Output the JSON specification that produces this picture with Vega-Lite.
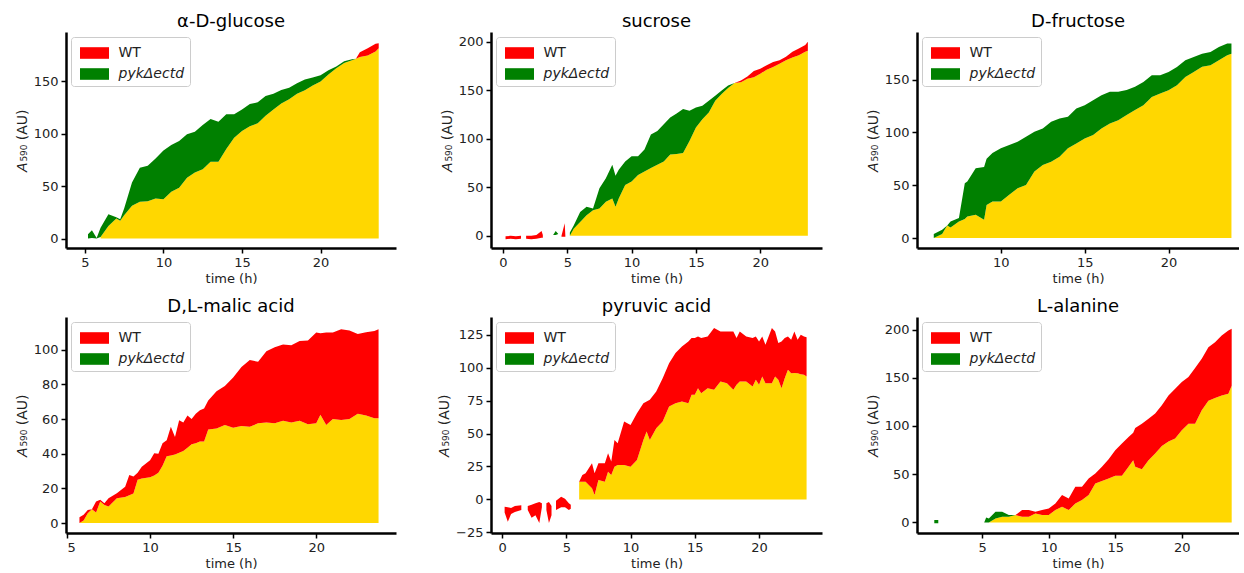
{
  "$schema": "https://vega.github.io/schema/vega-lite/v6.json",
  "padding": {"left": 15, "top": 13, "right": 0, "bottom": 0},
  "background": "white",
  "data": {"values": [
    {"p":"g","t":5.2,"wt":0,"mut":4},
    {"p":"g","t":5.45,"wt":0.5,"mut":8},
    {"p":"g","t":5.75,"wt":0,"mut":0.5},
    {"p":"g","t":6.0,"wt":1.6,"mut":10.2,"lo":1.6},
    {"p":"g","t":6.5,"wt":12.1,"mut":23.2,"lo":12.1},
    {"p":"g","t":7.0,"wt":19.1,"mut":20.4,"lo":19.1},
    {"p":"g","t":7.25,"wt":17,"mut":18.5,"lo":17},
    {"p":"g","t":7.5,"wt":22.3,"mut":28.7,"lo":22.3},
    {"p":"g","t":8.0,"wt":31.2,"mut":53.5,"lo":31.2},
    {"p":"g","t":8.5,"wt":35.0,"mut":67.5,"lo":35.0},
    {"p":"g","t":9.0,"wt":35.7,"mut":69.4,"lo":35.7},
    {"p":"g","t":9.5,"wt":38.2,"mut":76.4,"lo":38.2},
    {"p":"g","t":10.0,"wt":37.6,"mut":84.1,"lo":37.6},
    {"p":"g","t":10.5,"wt":44.6,"mut":89.2,"lo":44.6},
    {"p":"g","t":11.0,"wt":48.4,"mut":93.0,"lo":48.4},
    {"p":"g","t":11.5,"wt":58.0,"mut":99.4,"lo":58.0},
    {"p":"g","t":12.0,"wt":63.1,"mut":101.9,"lo":63.1},
    {"p":"g","t":12.5,"wt":66.2,"mut":108.3,"lo":66.2},
    {"p":"g","t":13.0,"wt":73.2,"mut":114.0,"lo":73.2},
    {"p":"g","t":13.5,"wt":73.2,"mut":111.5,"lo":73.2},
    {"p":"g","t":14.0,"wt":85.3,"mut":118.5,"lo":85.3},
    {"p":"g","t":14.5,"wt":96.2,"mut":118.5,"lo":96.2},
    {"p":"g","t":15.0,"wt":102.5,"mut":123.2,"lo":102.5},
    {"p":"g","t":15.5,"wt":107.0,"mut":128.3,"lo":107.0},
    {"p":"g","t":16.0,"wt":109.9,"mut":129.9,"lo":109.9},
    {"p":"g","t":16.5,"wt":117.2,"mut":136.0,"lo":117.2},
    {"p":"g","t":17.0,"wt":123.2,"mut":138.2,"lo":123.2},
    {"p":"g","t":17.5,"wt":128.7,"mut":141.7,"lo":128.7},
    {"p":"g","t":18.0,"wt":132.8,"mut":143.9,"lo":132.8},
    {"p":"g","t":18.5,"wt":138.2,"mut":148.1,"lo":138.2},
    {"p":"g","t":19.0,"wt":141.4,"mut":151.6,"lo":141.4},
    {"p":"g","t":19.5,"wt":145.9,"mut":153.5,"lo":145.9},
    {"p":"g","t":20.0,"wt":149.7,"mut":155.7,"lo":149.7},
    {"p":"g","t":20.5,"wt":156.5,"mut":160.5,"lo":156.5},
    {"p":"g","t":21.0,"wt":162.5,"mut":164.0,"lo":162.5},
    {"p":"g","t":21.5,"wt":167.5,"mut":169.0,"lo":167.5},
    {"p":"g","t":22.0,"wt":170.0,"mut":171.0,"lo":170.0},
    {"p":"g","t":22.25,"wt":171.5,"mut":171.5,"lo":171.5},
    {"p":"g","t":22.5,"wt":177.7,"mut":173.2,"lo":173.2},
    {"p":"g","t":23.0,"wt":181.5,"mut":174.5,"lo":174.5},
    {"p":"g","t":23.5,"wt":185.7,"mut":178.3,"lo":178.3},
    {"p":"g","t":23.7,"wt":186.3,"mut":181.5,"lo":181.5},

    {"p":"s","t":0.2,"wt":-0.5,"mut":-3.5},
    {"p":"s","t":0.6,"wt":0,"mut":-3},
    {"p":"s","t":1.0,"wt":-0.5,"mut":-3.5},
    {"p":"s","t":1.4,"wt":0,"mut":-3},
    {"p":"s","t":1.6,"wt":null,"mut":null},
    {"p":"s","t":1.8,"wt":0,"mut":-3},
    {"p":"s","t":2.2,"wt":0,"mut":-3.5},
    {"p":"s","t":2.6,"wt":1,"mut":-3},
    {"p":"s","t":3.0,"wt":5,"mut":-2},
    {"p":"s","t":3.1,"wt":1,"mut":-2},
    {"p":"s","t":3.3,"wt":null,"mut":null},
    {"p":"s","t":3.9,"wt":1,"mut":1},
    {"p":"s","t":4.1,"wt":1,"mut":5},
    {"p":"s","t":4.3,"wt":2,"mut":2},
    {"p":"s","t":4.45,"wt":null,"mut":null},
    {"p":"s","t":4.55,"wt":0,"mut":-1},
    {"p":"s","t":4.8,"wt":13,"mut":-1},
    {"p":"s","t":4.85,"wt":0,"mut":-1},
    {"p":"s","t":5.0,"wt":null,"mut":null},
    {"p":"s","t":5.2,"wt":0,"mut":3.5,"lo":0},
    {"p":"s","t":5.5,"wt":7.3,"mut":10.8,"lo":7.3},
    {"p":"s","t":6.0,"wt":14.2,"mut":24.7,"lo":14.2},
    {"p":"s","t":6.5,"wt":21.2,"mut":29.9,"lo":21.2},
    {"p":"s","t":7.0,"wt":26.4,"mut":28.1,"lo":26.4},
    {"p":"s","t":7.5,"wt":28.1,"mut":49.0,"lo":28.1},
    {"p":"s","t":8.0,"wt":35.1,"mut":59.4,"lo":35.1},
    {"p":"s","t":8.5,"wt":38.5,"mut":73.3,"lo":38.5},
    {"p":"s","t":8.75,"wt":30,"mut":62,"lo":30},
    {"p":"s","t":9.0,"wt":38.5,"mut":68.1,"lo":38.5},
    {"p":"s","t":9.5,"wt":52.4,"mut":76.7,"lo":52.4},
    {"p":"s","t":10.0,"wt":55.9,"mut":81.9,"lo":55.9},
    {"p":"s","t":10.5,"wt":62.8,"mut":81.9,"lo":62.8},
    {"p":"s","t":11.0,"wt":66.3,"mut":88.9,"lo":66.3},
    {"p":"s","t":11.5,"wt":69.8,"mut":104.5,"lo":69.8},
    {"p":"s","t":12.0,"wt":73.3,"mut":108.0,"lo":73.3},
    {"p":"s","t":12.5,"wt":76.7,"mut":114.9,"lo":76.7},
    {"p":"s","t":13.0,"wt":83.7,"mut":121.9,"lo":83.7},
    {"p":"s","t":13.5,"wt":84.4,"mut":126.0,"lo":84.4},
    {"p":"s","t":14.0,"wt":85.4,"mut":130.6,"lo":85.4},
    {"p":"s","t":14.5,"wt":97.6,"mut":128.8,"lo":97.6},
    {"p":"s","t":15.0,"wt":111.5,"mut":132.3,"lo":111.5},
    {"p":"s","t":15.5,"wt":120.1,"mut":134.0,"lo":120.1},
    {"p":"s","t":16.0,"wt":127.1,"mut":139.2,"lo":127.1},
    {"p":"s","t":16.5,"wt":139.2,"mut":144.4,"lo":139.2},
    {"p":"s","t":17.0,"wt":146.2,"mut":149.7,"lo":146.2},
    {"p":"s","t":17.5,"wt":152.4,"mut":154.9,"lo":152.4},
    {"p":"s","t":18.0,"wt":157.5,"mut":157.5,"lo":157.5},
    {"p":"s","t":18.5,"wt":160.1,"mut":158.3,"lo":158.3},
    {"p":"s","t":19.0,"wt":164.2,"mut":161.8,"lo":161.8},
    {"p":"s","t":19.5,"wt":169.8,"mut":163.5,"lo":163.5},
    {"p":"s","t":20.0,"wt":172.2,"mut":167.0,"lo":167.0},
    {"p":"s","t":20.5,"wt":175.7,"mut":171.2,"lo":171.2},
    {"p":"s","t":21.0,"wt":179.2,"mut":174.0,"lo":174.0},
    {"p":"s","t":21.5,"wt":181.0,"mut":177.4,"lo":177.4},
    {"p":"s","t":22.0,"wt":184.4,"mut":180.9,"lo":180.9},
    {"p":"s","t":22.5,"wt":189.6,"mut":183.7,"lo":183.7},
    {"p":"s","t":23.0,"wt":193.0,"mut":186.1,"lo":186.1},
    {"p":"s","t":23.5,"wt":196.5,"mut":189.6,"lo":189.6},
    {"p":"s","t":23.7,"wt":200.0,"mut":190.6,"lo":190.6},

    {"p":"f","t":6.0,"wt":0,"mut":3.8,"lo":0},
    {"p":"f","t":6.5,"wt":3.8,"mut":7.9,"lo":3.8},
    {"p":"f","t":6.8,"wt":12,"mut":12,"lo":12},
    {"p":"f","t":7.0,"wt":10.1,"mut":15.7,"lo":10.1},
    {"p":"f","t":7.5,"wt":15.7,"mut":18.9,"lo":15.7},
    {"p":"f","t":7.85,"wt":18,"mut":51.9,"lo":18},
    {"p":"f","t":8.0,"wt":20.4,"mut":53.5,"lo":20.4},
    {"p":"f","t":8.5,"wt":22.0,"mut":66.0,"lo":22.0},
    {"p":"f","t":9.0,"wt":17.3,"mut":67.3,"lo":17.3},
    {"p":"f","t":9.15,"wt":31.4,"mut":75,"lo":31.4},
    {"p":"f","t":9.5,"wt":34.6,"mut":80.5,"lo":34.6},
    {"p":"f","t":10.0,"wt":34.6,"mut":84.9,"lo":34.6},
    {"p":"f","t":10.5,"wt":40.9,"mut":88.1,"lo":40.9},
    {"p":"f","t":11.0,"wt":47.2,"mut":91.2,"lo":47.2},
    {"p":"f","t":11.5,"wt":50.3,"mut":95.9,"lo":50.3},
    {"p":"f","t":12.0,"wt":62.9,"mut":100.6,"lo":62.9},
    {"p":"f","t":12.5,"wt":69.2,"mut":103.8,"lo":69.2},
    {"p":"f","t":13.0,"wt":72.3,"mut":110.1,"lo":72.3},
    {"p":"f","t":13.5,"wt":77.0,"mut":113.2,"lo":77.0},
    {"p":"f","t":14.0,"wt":84.9,"mut":114.8,"lo":84.9},
    {"p":"f","t":14.5,"wt":89.6,"mut":122.6,"lo":89.6},
    {"p":"f","t":15.0,"wt":94.3,"mut":125.8,"lo":94.3},
    {"p":"f","t":15.5,"wt":97.5,"mut":130.5,"lo":97.5},
    {"p":"f","t":16.0,"wt":103.8,"mut":135.2,"lo":103.8},
    {"p":"f","t":16.5,"wt":108.5,"mut":138.4,"lo":108.5},
    {"p":"f","t":17.0,"wt":111.6,"mut":138.4,"lo":111.6},
    {"p":"f","t":17.5,"wt":116.4,"mut":140.0,"lo":116.4},
    {"p":"f","t":18.0,"wt":121.1,"mut":143.1,"lo":121.1},
    {"p":"f","t":18.5,"wt":125.8,"mut":147.8,"lo":125.8},
    {"p":"f","t":19.0,"wt":133.6,"mut":154.1,"lo":133.6},
    {"p":"f","t":19.5,"wt":136.8,"mut":154.1,"lo":136.8},
    {"p":"f","t":20.0,"wt":139.9,"mut":157.2,"lo":139.9},
    {"p":"f","t":20.5,"wt":144.7,"mut":161.9,"lo":144.7},
    {"p":"f","t":21.0,"wt":152.5,"mut":168.2,"lo":152.5},
    {"p":"f","t":21.5,"wt":157.2,"mut":171.4,"lo":157.2},
    {"p":"f","t":22.0,"wt":162.0,"mut":174.5,"lo":162.0},
    {"p":"f","t":22.5,"wt":163.5,"mut":176.1,"lo":163.5},
    {"p":"f","t":23.0,"wt":168.2,"mut":180.8,"lo":168.2},
    {"p":"f","t":23.5,"wt":173.0,"mut":184.0,"lo":173.0},
    {"p":"f","t":23.75,"wt":174.5,"mut":184.0,"lo":174.5},

    {"p":"m","t":5.75,"wt":3.4,"mut":0,"lo":0},
    {"p":"m","t":6.0,"wt":4.8,"mut":1.5,"lo":1.5},
    {"p":"m","t":6.25,"wt":7.6,"mut":5.7,"lo":5.7},
    {"p":"m","t":6.5,"wt":8,"mut":8,"lo":8},
    {"p":"m","t":6.75,"wt":12.4,"mut":6.1,"lo":6.1},
    {"p":"m","t":7.0,"wt":13.4,"mut":12.4,"lo":12.4},
    {"p":"m","t":7.25,"wt":11.5,"mut":10.5,"lo":10.5},
    {"p":"m","t":7.5,"wt":14.3,"mut":9.6,"lo":9.6},
    {"p":"m","t":8.0,"wt":17.2,"mut":14.3,"lo":14.3},
    {"p":"m","t":8.5,"wt":21.0,"mut":15,"lo":15},
    {"p":"m","t":8.75,"wt":27.7,"mut":16,"lo":16},
    {"p":"m","t":9.0,"wt":26.8,"mut":17,"lo":17},
    {"p":"m","t":9.25,"wt":29,"mut":25,"lo":25},
    {"p":"m","t":9.5,"wt":32.5,"mut":25.7,"lo":25.7},
    {"p":"m","t":10.0,"wt":36.3,"mut":26.5,"lo":26.5},
    {"p":"m","t":10.25,"wt":40.2,"mut":27.5,"lo":27.5},
    {"p":"m","t":10.5,"wt":40,"mut":29,"lo":29},
    {"p":"m","t":10.75,"wt":46,"mut":33,"lo":33},
    {"p":"m","t":11.0,"wt":47.8,"mut":38.5,"lo":38.5},
    {"p":"m","t":11.25,"wt":55.5,"mut":39,"lo":39},
    {"p":"m","t":11.5,"wt":49.7,"mut":39.5,"lo":39.5},
    {"p":"m","t":11.75,"wt":59.3,"mut":40.5,"lo":40.5},
    {"p":"m","t":12.0,"wt":58,"mut":41.5,"lo":41.5},
    {"p":"m","t":12.25,"wt":62,"mut":43.5,"lo":43.5},
    {"p":"m","t":12.5,"wt":60,"mut":45.5,"lo":45.5},
    {"p":"m","t":12.75,"wt":63,"mut":46,"lo":46},
    {"p":"m","t":13.0,"wt":65,"mut":47,"lo":47},
    {"p":"m","t":13.25,"wt":66,"mut":47,"lo":47},
    {"p":"m","t":13.5,"wt":70.7,"mut":54,"lo":54},
    {"p":"m","t":14.0,"wt":76,"mut":54.5,"lo":54.5},
    {"p":"m","t":14.5,"wt":79,"mut":56.5,"lo":56.5},
    {"p":"m","t":15.0,"wt":84,"mut":55,"lo":55},
    {"p":"m","t":15.5,"wt":90,"mut":56,"lo":56},
    {"p":"m","t":16.0,"wt":94,"mut":55.5,"lo":55.5},
    {"p":"m","t":16.5,"wt":93,"mut":57.5,"lo":57.5},
    {"p":"m","t":17.0,"wt":99,"mut":58,"lo":58},
    {"p":"m","t":17.5,"wt":101.3,"mut":57.5,"lo":57.5},
    {"p":"m","t":18.0,"wt":103,"mut":59,"lo":59},
    {"p":"m","t":18.5,"wt":102.5,"mut":58,"lo":58},
    {"p":"m","t":19.0,"wt":105,"mut":59,"lo":59},
    {"p":"m","t":19.5,"wt":105.2,"mut":57,"lo":57},
    {"p":"m","t":20.0,"wt":109.9,"mut":57.5,"lo":57.5},
    {"p":"m","t":20.25,"wt":109.5,"mut":62.5,"lo":62.5},
    {"p":"m","t":20.6,"wt":109.9,"mut":56.5,"lo":56.5},
    {"p":"m","t":21.0,"wt":109.9,"mut":60,"lo":60},
    {"p":"m","t":21.5,"wt":111.8,"mut":59.5,"lo":59.5},
    {"p":"m","t":22.0,"wt":111,"mut":60,"lo":60},
    {"p":"m","t":22.5,"wt":109,"mut":63,"lo":63},
    {"p":"m","t":23.0,"wt":110,"mut":62,"lo":62},
    {"p":"m","t":23.5,"wt":110.8,"mut":60.5,"lo":60.5},
    {"p":"m","t":23.75,"wt":111.8,"mut":60.5,"lo":60.5},

    {"p":"y","t":0.2,"wt":-5.6,"mut":-10},
    {"p":"y","t":0.45,"wt":-6,"mut":-17},
    {"p":"y","t":0.7,"wt":-6.5,"mut":-11},
    {"p":"y","t":1.0,"wt":-5,"mut":-9.5},
    {"p":"y","t":1.5,"wt":-4.5,"mut":-8},
    {"p":"y","t":1.7,"wt":null,"mut":null},
    {"p":"y","t":2.0,"wt":-5,"mut":-8},
    {"p":"y","t":2.3,"wt":-4,"mut":-14},
    {"p":"y","t":2.6,"wt":-3,"mut":-12},
    {"p":"y","t":2.9,"wt":-2,"mut":-18},
    {"p":"y","t":3.1,"wt":-3,"mut":-6},
    {"p":"y","t":3.3,"wt":null,"mut":null},
    {"p":"y","t":3.45,"wt":-3,"mut":-8},
    {"p":"y","t":3.65,"wt":-2,"mut":-18},
    {"p":"y","t":3.85,"wt":-5,"mut":-12},
    {"p":"y","t":4.0,"wt":null,"mut":null},
    {"p":"y","t":4.2,"wt":-1,"mut":-8},
    {"p":"y","t":4.6,"wt":2,"mut":-6},
    {"p":"y","t":4.9,"wt":0.5,"mut":-6},
    {"p":"y","t":5.2,"wt":-3,"mut":-8},
    {"p":"y","t":5.35,"wt":-4,"mut":-7},
    {"p":"y","t":5.5,"wt":null,"mut":null},
    {"p":"y","t":6.0,"wt":13.4,"mut":13.4,"lo":13.4},
    {"p":"y","t":6.25,"wt":18.5,"mut":13.4,"lo":13.4},
    {"p":"y","t":6.5,"wt":19.8,"mut":13.4,"lo":13.4},
    {"p":"y","t":7.0,"wt":27.4,"mut":8.4,"lo":8.4},
    {"p":"y","t":7.2,"wt":19.8,"mut":3.3,"lo":3.3},
    {"p":"y","t":7.5,"wt":27.4,"mut":14.7,"lo":14.7},
    {"p":"y","t":8.0,"wt":27.4,"mut":13.4,"lo":13.4},
    {"p":"y","t":8.25,"wt":35,"mut":21,"lo":21},
    {"p":"y","t":8.5,"wt":28.7,"mut":18.5,"lo":18.5},
    {"p":"y","t":8.75,"wt":45.1,"mut":24.8,"lo":24.8},
    {"p":"y","t":9.0,"wt":42.6,"mut":26.1,"lo":26.1},
    {"p":"y","t":9.5,"wt":59.1,"mut":26.1,"lo":26.1},
    {"p":"y","t":10.0,"wt":56.5,"mut":24.8,"lo":24.8},
    {"p":"y","t":10.5,"wt":65.4,"mut":29.9,"lo":29.9},
    {"p":"y","t":11.0,"wt":73,"mut":45.1,"lo":45.1},
    {"p":"y","t":11.25,"wt":74.3,"mut":51.5,"lo":51.5},
    {"p":"y","t":11.5,"wt":75.6,"mut":45.1,"lo":45.1},
    {"p":"y","t":12.0,"wt":81.9,"mut":54,"lo":54},
    {"p":"y","t":12.5,"wt":92,"mut":59.1,"lo":59.1},
    {"p":"y","t":13.0,"wt":103.4,"mut":70.5,"lo":70.5},
    {"p":"y","t":13.5,"wt":111.1,"mut":73,"lo":73},
    {"p":"y","t":14.0,"wt":116.1,"mut":74.3,"lo":74.3},
    {"p":"y","t":14.5,"wt":119.9,"mut":73,"lo":73},
    {"p":"y","t":14.75,"wt":122.5,"mut":79.4,"lo":79.4},
    {"p":"y","t":15.0,"wt":122.5,"mut":79.4,"lo":79.4},
    {"p":"y","t":15.25,"wt":123.7,"mut":84.4,"lo":84.4},
    {"p":"y","t":15.5,"wt":122.5,"mut":80.6,"lo":80.6},
    {"p":"y","t":16.0,"wt":123.7,"mut":84.4,"lo":84.4},
    {"p":"y","t":16.5,"wt":130.1,"mut":83.2,"lo":83.2},
    {"p":"y","t":17.0,"wt":127.5,"mut":89.5,"lo":89.5},
    {"p":"y","t":17.5,"wt":127.5,"mut":88.2,"lo":88.2},
    {"p":"y","t":18.0,"wt":127.5,"mut":83.2,"lo":83.2},
    {"p":"y","t":18.25,"wt":122.5,"mut":87,"lo":87},
    {"p":"y","t":18.5,"wt":127.5,"mut":89.5,"lo":89.5},
    {"p":"y","t":19.0,"wt":123.7,"mut":89.5,"lo":89.5},
    {"p":"y","t":19.5,"wt":122.5,"mut":85.7,"lo":85.7},
    {"p":"y","t":19.75,"wt":123.7,"mut":90.8,"lo":90.8},
    {"p":"y","t":20.0,"wt":119.9,"mut":87,"lo":87},
    {"p":"y","t":20.25,"wt":123.7,"mut":93.3,"lo":93.3},
    {"p":"y","t":20.5,"wt":117.4,"mut":88.2,"lo":88.2},
    {"p":"y","t":21.0,"wt":130.1,"mut":88.2,"lo":88.2},
    {"p":"y","t":21.25,"wt":127.5,"mut":93.3,"lo":93.3},
    {"p":"y","t":21.5,"wt":118.7,"mut":90.8,"lo":90.8},
    {"p":"y","t":21.75,"wt":119.9,"mut":84.4,"lo":84.4},
    {"p":"y","t":22.0,"wt":122.5,"mut":92,"lo":92},
    {"p":"y","t":22.25,"wt":123.7,"mut":98.4,"lo":98.4},
    {"p":"y","t":22.5,"wt":121.2,"mut":95.8,"lo":95.8},
    {"p":"y","t":22.75,"wt":127.5,"mut":96,"lo":96},
    {"p":"y","t":23.0,"wt":121.2,"mut":95.8,"lo":95.8},
    {"p":"y","t":23.25,"wt":125,"mut":95,"lo":95},
    {"p":"y","t":23.5,"wt":123.7,"mut":94.6,"lo":94.6},
    {"p":"y","t":23.7,"wt":123.2,"mut":93.3,"lo":93.3},

    {"p":"a","t":1.4,"wt":-1,"mut":2.5},
    {"p":"a","t":1.7,"wt":-1,"mut":2.5},
    {"p":"a","t":1.8,"wt":null,"mut":null},
    {"p":"a","t":5.15,"wt":0,"mut":0},
    {"p":"a","t":5.3,"wt":0,"mut":5},
    {"p":"a","t":5.5,"wt":0,"mut":4.1,"lo":0},
    {"p":"a","t":6.0,"wt":4.1,"mut":11,"lo":4.1},
    {"p":"a","t":6.5,"wt":5.9,"mut":11,"lo":5.9},
    {"p":"a","t":7.0,"wt":5.9,"mut":7.6,"lo":5.9},
    {"p":"a","t":7.5,"wt":7.6,"mut":7.6,"lo":7.6},
    {"p":"a","t":8.0,"wt":12.8,"mut":5.9,"lo":5.9},
    {"p":"a","t":8.5,"wt":12.8,"mut":5.9,"lo":5.9},
    {"p":"a","t":9.0,"wt":11,"mut":9.3,"lo":9.3},
    {"p":"a","t":9.5,"wt":12.8,"mut":7.6,"lo":7.6},
    {"p":"a","t":10.0,"wt":14.5,"mut":7.6,"lo":7.6},
    {"p":"a","t":10.5,"wt":19.7,"mut":12.8,"lo":12.8},
    {"p":"a","t":11.0,"wt":28.3,"mut":16.2,"lo":16.2},
    {"p":"a","t":11.5,"wt":24.8,"mut":12.8,"lo":12.8},
    {"p":"a","t":12.0,"wt":36.9,"mut":19.7,"lo":19.7},
    {"p":"a","t":12.5,"wt":36.9,"mut":23.1,"lo":23.1},
    {"p":"a","t":13.0,"wt":45.5,"mut":28.3,"lo":28.3},
    {"p":"a","t":13.5,"wt":50.7,"mut":40.3,"lo":40.3},
    {"p":"a","t":14.0,"wt":57.6,"mut":42.8,"lo":42.8},
    {"p":"a","t":14.5,"wt":65.5,"mut":45.5,"lo":45.5},
    {"p":"a","t":15.0,"wt":74.8,"mut":48.3,"lo":48.3},
    {"p":"a","t":15.5,"wt":81.7,"mut":48.3,"lo":48.3},
    {"p":"a","t":16.0,"wt":88.6,"mut":57.6,"lo":57.6},
    {"p":"a","t":16.35,"wt":93,"mut":64.5,"lo":64.5},
    {"p":"a","t":16.5,"wt":97.9,"mut":57.6,"lo":57.6},
    {"p":"a","t":17.0,"wt":102.4,"mut":55,"lo":55},
    {"p":"a","t":17.5,"wt":107.6,"mut":64.5,"lo":64.5},
    {"p":"a","t":18.0,"wt":112.8,"mut":71.4,"lo":71.4},
    {"p":"a","t":18.5,"wt":121.4,"mut":79.3,"lo":79.3},
    {"p":"a","t":19.0,"wt":131.7,"mut":83.8,"lo":83.8},
    {"p":"a","t":19.5,"wt":138.6,"mut":86.9,"lo":86.9},
    {"p":"a","t":20.0,"wt":145.5,"mut":95.5,"lo":95.5},
    {"p":"a","t":20.5,"wt":150.7,"mut":102.4,"lo":102.4},
    {"p":"a","t":21.0,"wt":160.0,"mut":102.4,"lo":102.4},
    {"p":"a","t":21.5,"wt":169.7,"mut":116.2,"lo":116.2},
    {"p":"a","t":22.0,"wt":181.7,"mut":126.2,"lo":126.2},
    {"p":"a","t":22.5,"wt":186.9,"mut":129,"lo":129},
    {"p":"a","t":23.0,"wt":193.8,"mut":131.7,"lo":131.7},
    {"p":"a","t":23.5,"wt":198.9,"mut":133.4,"lo":133.4},
    {"p":"a","t":23.75,"wt":200.7,"mut":141.7,"lo":141.7}
  ]},
  "columns": 3,
  "spacing": {"row": 69, "column": 95},
  "bounds": "flush",
  "resolve": {"scale": {"x": "independent", "y": "independent", "color": "independent"}, "legend": {"color": "independent"}},
  "concat": [
    {
      "width": 330, "height": 216, "title": "α-D-glucose",
      "transform": [{"filter": "datum.p === 'g'"}],
      "encoding": {"x": {"field": "t", "type": "quantitative", "scale": {"domain": [3.8, 24.8], "nice": false, "zero": false}, "axis": {"values": [5, 10, 15, 20], "title": "time (h)"}}},
      "layer": [
        {"transform": [{"filter": "isValid(datum.lo)"}], "mark": {"type": "area", "color": "#ffd700"},
         "encoding": {"y": {"field": "lo", "type": "quantitative", "stack": null, "scale": {"domain": [-9, 197], "nice": false, "zero": false}, "axis": {"values": [0, 50, 100, 150], "title": "𝘈₅₉₀ (AU)"}}, "y2": {"datum": 0}}},
        {"transform": [{"filter": "datum.wt >= datum.mut"}], "mark": {"type": "area", "invalid": "break-paths-filter-domains"},
         "encoding": {"y": {"field": "mut", "type": "quantitative", "stack": null, "scale": {"domain": [-9, 197], "nice": false, "zero": false}, "axis": {"values": [0, 50, 100, 150], "title": "𝘈₅₉₀ (AU)"}}, "y2": {"field": "wt"},
           "color": {"datum": "WT", "type": "nominal", "scale": {"domain": ["WT", "pykΔectd"], "range": ["#ff0000", "#008000"]}, "legend": {"title": null, "encode": {"labels": {"update": {"fontStyle": {"signal": "datum.value === 'WT' ? 'normal' : 'italic'"}}}}}}}},
        {"transform": [{"filter": "datum.mut >= datum.wt"}], "mark": {"type": "area", "invalid": "break-paths-filter-domains"},
         "encoding": {"y": {"field": "wt", "type": "quantitative", "stack": null, "scale": {"domain": [-9, 197], "nice": false, "zero": false}, "axis": {"values": [0, 50, 100, 150], "title": "𝘈₅₉₀ (AU)"}}, "y2": {"field": "mut"},
           "color": {"datum": "pykΔectd", "type": "nominal", "scale": {"domain": ["WT", "pykΔectd"], "range": ["#ff0000", "#008000"]}, "legend": {"title": null, "encode": {"labels": {"update": {"fontStyle": {"signal": "datum.value === 'WT' ? 'normal' : 'italic'"}}}}}}}}
      ]
    },
    {
      "width": 331, "height": 216, "title": "sucrose",
      "transform": [{"filter": "datum.p === 's'"}],
      "encoding": {"x": {"field": "t", "type": "quantitative", "scale": {"domain": [-0.93, 24.8], "nice": false, "zero": false}, "axis": {"values": [0, 5, 10, 15, 20], "title": "time (h)"}}},
      "layer": [
        {"transform": [{"filter": "isValid(datum.lo)"}], "mark": {"type": "area", "color": "#ffd700"},
         "encoding": {"y": {"field": "lo", "type": "quantitative", "stack": null, "scale": {"domain": [-12.5, 210], "nice": false, "zero": false}, "axis": {"values": [0, 50, 100, 150, 200], "title": "𝘈₅₉₀ (AU)"}}, "y2": {"datum": 0}}},
        {"transform": [{"filter": "datum.wt >= datum.mut"}], "mark": {"type": "area", "invalid": "break-paths-filter-domains"},
         "encoding": {"y": {"field": "mut", "type": "quantitative", "stack": null, "scale": {"domain": [-12.5, 210], "nice": false, "zero": false}, "axis": {"values": [0, 50, 100, 150, 200], "title": "𝘈₅₉₀ (AU)"}}, "y2": {"field": "wt"},
           "color": {"datum": "WT", "type": "nominal", "scale": {"domain": ["WT", "pykΔectd"], "range": ["#ff0000", "#008000"]}, "legend": {"title": null, "encode": {"labels": {"update": {"fontStyle": {"signal": "datum.value === 'WT' ? 'normal' : 'italic'"}}}}}}}},
        {"transform": [{"filter": "datum.mut >= datum.wt"}], "mark": {"type": "area", "invalid": "break-paths-filter-domains"},
         "encoding": {"y": {"field": "wt", "type": "quantitative", "stack": null, "scale": {"domain": [-12.5, 210], "nice": false, "zero": false}, "axis": {"values": [0, 50, 100, 150, 200], "title": "𝘈₅₉₀ (AU)"}}, "y2": {"field": "mut"},
           "color": {"datum": "pykΔectd", "type": "nominal", "scale": {"domain": ["WT", "pykΔectd"], "range": ["#ff0000", "#008000"]}, "legend": {"title": null, "encode": {"labels": {"update": {"fontStyle": {"signal": "datum.value === 'WT' ? 'normal' : 'italic'"}}}}}}}}
      ]
    },
    {
      "width": 322, "height": 216, "title": "D-fructose",
      "transform": [{"filter": "datum.p === 'f'"}],
      "encoding": {"x": {"field": "t", "type": "quantitative", "scale": {"domain": [5.0, 24.2], "nice": false, "zero": false}, "axis": {"values": [10, 15, 20], "title": "time (h)"}}},
      "layer": [
        {"transform": [{"filter": "isValid(datum.lo)"}], "mark": {"type": "area", "color": "#ffd700"},
         "encoding": {"y": {"field": "lo", "type": "quantitative", "stack": null, "scale": {"domain": [-9.4, 195], "nice": false, "zero": false}, "axis": {"values": [0, 50, 100, 150], "title": "𝘈₅₉₀ (AU)"}}, "y2": {"datum": 0}}},
        {"transform": [{"filter": "datum.wt >= datum.mut"}], "mark": {"type": "area", "invalid": "break-paths-filter-domains"},
         "encoding": {"y": {"field": "mut", "type": "quantitative", "stack": null, "scale": {"domain": [-9.4, 195], "nice": false, "zero": false}, "axis": {"values": [0, 50, 100, 150], "title": "𝘈₅₉₀ (AU)"}}, "y2": {"field": "wt"},
           "color": {"datum": "WT", "type": "nominal", "scale": {"domain": ["WT", "pykΔectd"], "range": ["#ff0000", "#008000"]}, "legend": {"title": null, "encode": {"labels": {"update": {"fontStyle": {"signal": "datum.value === 'WT' ? 'normal' : 'italic'"}}}}}}}},
        {"transform": [{"filter": "datum.mut >= datum.wt"}], "mark": {"type": "area", "invalid": "break-paths-filter-domains"},
         "encoding": {"y": {"field": "wt", "type": "quantitative", "stack": null, "scale": {"domain": [-9.4, 195], "nice": false, "zero": false}, "axis": {"values": [0, 50, 100, 150], "title": "𝘈₅₉₀ (AU)"}}, "y2": {"field": "mut"},
           "color": {"datum": "pykΔectd", "type": "nominal", "scale": {"domain": ["WT", "pykΔectd"], "range": ["#ff0000", "#008000"]}, "legend": {"title": null, "encode": {"labels": {"update": {"fontStyle": {"signal": "datum.value === 'WT' ? 'normal' : 'italic'"}}}}}}}}
      ]
    },
    {
      "width": 330, "height": 216, "title": "D,L-malic acid",
      "transform": [{"filter": "datum.p === 'm'"}],
      "encoding": {"x": {"field": "t", "type": "quantitative", "scale": {"domain": [4.94, 24.8], "nice": false, "zero": false}, "axis": {"values": [5, 10, 15, 20], "title": "time (h)"}}},
      "layer": [
        {"transform": [{"filter": "isValid(datum.lo)"}], "mark": {"type": "area", "color": "#ffd700"},
         "encoding": {"y": {"field": "lo", "type": "quantitative", "stack": null, "scale": {"domain": [-5.7, 118.8], "nice": false, "zero": false}, "axis": {"values": [0, 20, 40, 60, 80, 100], "title": "𝘈₅₉₀ (AU)"}}, "y2": {"datum": 0}}},
        {"transform": [{"filter": "datum.wt >= datum.mut"}], "mark": {"type": "area", "invalid": "break-paths-filter-domains"},
         "encoding": {"y": {"field": "mut", "type": "quantitative", "stack": null, "scale": {"domain": [-5.7, 118.8], "nice": false, "zero": false}, "axis": {"values": [0, 20, 40, 60, 80, 100], "title": "𝘈₅₉₀ (AU)"}}, "y2": {"field": "wt"},
           "color": {"datum": "WT", "type": "nominal", "scale": {"domain": ["WT", "pykΔectd"], "range": ["#ff0000", "#008000"]}, "legend": {"title": null, "encode": {"labels": {"update": {"fontStyle": {"signal": "datum.value === 'WT' ? 'normal' : 'italic'"}}}}}}}},
        {"transform": [{"filter": "datum.mut >= datum.wt"}], "mark": {"type": "area", "invalid": "break-paths-filter-domains"},
         "encoding": {"y": {"field": "wt", "type": "quantitative", "stack": null, "scale": {"domain": [-5.7, 118.8], "nice": false, "zero": false}, "axis": {"values": [0, 20, 40, 60, 80, 100], "title": "𝘈₅₉₀ (AU)"}}, "y2": {"field": "mut"},
           "color": {"datum": "pykΔectd", "type": "nominal", "scale": {"domain": ["WT", "pykΔectd"], "range": ["#ff0000", "#008000"]}, "legend": {"title": null, "encode": {"labels": {"update": {"fontStyle": {"signal": "datum.value === 'WT' ? 'normal' : 'italic'"}}}}}}}}
      ]
    },
    {
      "width": 331, "height": 216, "title": "pyruvic acid",
      "transform": [{"filter": "datum.p === 'y'"}],
      "encoding": {"x": {"field": "t", "type": "quantitative", "scale": {"domain": [-0.86, 24.9], "nice": false, "zero": false}, "axis": {"values": [0, 5, 10, 15, 20], "title": "time (h)"}}},
      "layer": [
        {"transform": [{"filter": "isValid(datum.lo)"}], "mark": {"type": "area", "color": "#ffd700"},
         "encoding": {"y": {"field": "lo", "type": "quantitative", "stack": null, "scale": {"domain": [-25.5, 138.5], "nice": false, "zero": false}, "axis": {"values": [-25, 0, 25, 50, 75, 100, 125], "title": "𝘈₅₉₀ (AU)"}}, "y2": {"datum": 0}}},
        {"transform": [{"filter": "datum.wt >= datum.mut"}], "mark": {"type": "area", "invalid": "break-paths-filter-domains"},
         "encoding": {"y": {"field": "mut", "type": "quantitative", "stack": null, "scale": {"domain": [-25.5, 138.5], "nice": false, "zero": false}, "axis": {"values": [-25, 0, 25, 50, 75, 100, 125], "title": "𝘈₅₉₀ (AU)"}}, "y2": {"field": "wt"},
           "color": {"datum": "WT", "type": "nominal", "scale": {"domain": ["WT", "pykΔectd"], "range": ["#ff0000", "#008000"]}, "legend": {"title": null, "encode": {"labels": {"update": {"fontStyle": {"signal": "datum.value === 'WT' ? 'normal' : 'italic'"}}}}}}}},
        {"transform": [{"filter": "datum.mut >= datum.wt"}], "mark": {"type": "area", "invalid": "break-paths-filter-domains"},
         "encoding": {"y": {"field": "wt", "type": "quantitative", "stack": null, "scale": {"domain": [-25.5, 138.5], "nice": false, "zero": false}, "axis": {"values": [-25, 0, 25, 50, 75, 100, 125], "title": "𝘈₅₉₀ (AU)"}}, "y2": {"field": "mut"},
           "color": {"datum": "pykΔectd", "type": "nominal", "scale": {"domain": ["WT", "pykΔectd"], "range": ["#ff0000", "#008000"]}, "legend": {"title": null, "encode": {"labels": {"update": {"fontStyle": {"signal": "datum.value === 'WT' ? 'normal' : 'italic'"}}}}}}}}
      ]
    },
    {
      "width": 322, "height": 216, "title": "L-alanine",
      "transform": [{"filter": "datum.p === 'a'"}],
      "encoding": {"x": {"field": "t", "type": "quantitative", "scale": {"domain": [0.1, 24.3], "nice": false, "zero": false}, "axis": {"values": [5, 10, 15, 20], "title": "time (h)"}}},
      "layer": [
        {"transform": [{"filter": "isValid(datum.lo)"}], "mark": {"type": "area", "color": "#ffd700"},
         "encoding": {"y": {"field": "lo", "type": "quantitative", "stack": null, "scale": {"domain": [-11, 213], "nice": false, "zero": false}, "axis": {"values": [0, 50, 100, 150, 200], "title": "𝘈₅₉₀ (AU)"}}, "y2": {"datum": 0}}},
        {"transform": [{"filter": "datum.wt >= datum.mut"}], "mark": {"type": "area", "invalid": "break-paths-filter-domains"},
         "encoding": {"y": {"field": "mut", "type": "quantitative", "stack": null, "scale": {"domain": [-11, 213], "nice": false, "zero": false}, "axis": {"values": [0, 50, 100, 150, 200], "title": "𝘈₅₉₀ (AU)"}}, "y2": {"field": "wt"},
           "color": {"datum": "WT", "type": "nominal", "scale": {"domain": ["WT", "pykΔectd"], "range": ["#ff0000", "#008000"]}, "legend": {"title": null, "encode": {"labels": {"update": {"fontStyle": {"signal": "datum.value === 'WT' ? 'normal' : 'italic'"}}}}}}}},
        {"transform": [{"filter": "datum.mut >= datum.wt"}], "mark": {"type": "area", "invalid": "break-paths-filter-domains"},
         "encoding": {"y": {"field": "wt", "type": "quantitative", "stack": null, "scale": {"domain": [-11, 213], "nice": false, "zero": false}, "axis": {"values": [0, 50, 100, 150, 200], "title": "𝘈₅₉₀ (AU)"}}, "y2": {"field": "mut"},
           "color": {"datum": "pykΔectd", "type": "nominal", "scale": {"domain": ["WT", "pykΔectd"], "range": ["#ff0000", "#008000"]}, "legend": {"title": null, "encode": {"labels": {"update": {"fontStyle": {"signal": "datum.value === 'WT' ? 'normal' : 'italic'"}}}}}}}}
      ]
    }
  ],
  "config": {
    "font": "DejaVu Sans",
    "view": {"stroke": null},
    "axis": {"grid": false, "domainColor": "#000000", "domainWidth": 2.5, "tickColor": "#000000", "tickWidth": 1.5, "tickSize": 5, "labelFontSize": 13, "labelColor": "#222222", "labelPadding": 3, "titleFontSize": 14, "titleFontWeight": "normal", "titleColor": "#222222"},
    "axisX": {"titlePadding": 3, "titleFontSize": 13},
    "axisY": {"titlePadding": 4},
    "title": {"fontSize": 18, "fontWeight": "normal", "color": "#000000", "offset": 1},
    "legend": {"orient": "top-left", "offset": 5, "padding": 5, "strokeColor": "#cccccc", "fillColor": "rgba(255,255,255,0.8)", "cornerRadius": 3, "labelFontSize": 14, "labelColor": "#222222", "labelOffset": 13, "symbolOffset": 7.5, "symbolType": "M-1.318,-0.527L1.318,-0.527L1.318,0.527L-1.318,0.527Z", "symbolSize": 484, "symbolStrokeWidth": 0, "symbolOpacity": 1, "rowPadding": 3}
  }
}
